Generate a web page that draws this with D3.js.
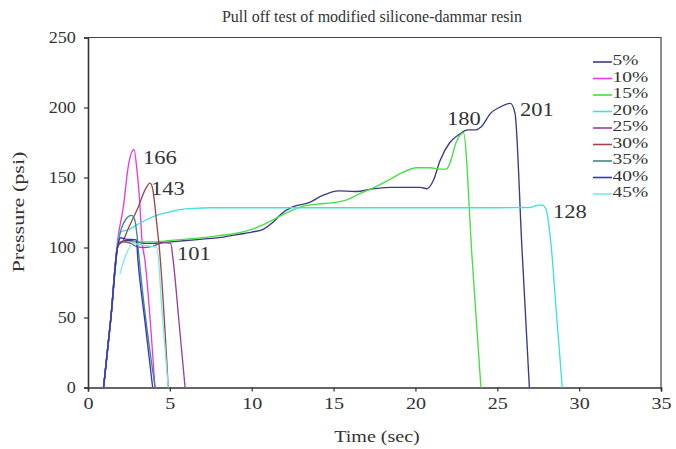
<!DOCTYPE html>
<html>
<head>
<meta charset="utf-8">
<script src="https://cdn.jsdelivr.net/npm/d3@7"></script>
<style>
  html, body { margin: 0; padding: 0; background: #fff; }
  svg { display: block; }
  text { font-family: "Liberation Serif", "Times New Roman", serif; fill: #333; }
</style>
</head>
<body>
<div id="chart"></div>
<script>
// series names + colours (legend order)
const seriesNames = ["5%", "10%", "15%", "20%", "25%", "30%", "35%", "40%", "45%"];
const seriesColors = ["#3a3a88", "#e63ce6", "#44e044", "#40e0e0", "#9a409a", "#a04848", "#3f8a8a", "#3535c8", "#80e8e8"];

// [time (sec), pressure (psi)]
const s5 = [[0.95,0],[1.4,50],[1.8,100],[2.0,104],[2.5,105],[3.0,104],[3.5,103],[4.0,103],[5,104],[6,105],[7,106],[8,107],[9,109],[10,111],[10.7,113],[11.3,118],[11.8,124],[12.5,129],[13.5,132],[14.3,137],[15.3,140.5],[16.3,140],[17.5,142],[18.5,143],[19.5,143],[20.3,143],[20.7,142],[21.1,148],[21.5,162],[22.1,175],[22.7,181],[23.2,184],[23.7,184],[24.0,186],[24.6,196],[25.2,200.5],[25.8,203],[26.08,196],[26.5,101],[26.96,0]];
const s10 = [[0.95,0],[1.4,50],[1.81,105],[2.16,129],[2.46,158],[2.81,170],[2.97,157.6],[3.18,128.7],[3.28,107.3],[3.48,90.7],[4.09,0]];
const s15 = [[0.95,0],[1.4,50],[1.8,100],[2.1,104],[3,104],[4,104],[5,105],[6,106],[7,107],[8,108.5],[9,110],[10,113],[11,118],[12,124],[13,129],[14,131],[15,132],[15.8,134],[16.5,138],[17.5,143],[18.5,149],[19.1,153],[20.1,157],[20.9,157],[21.5,156],[21.9,156],[22.1,160],[22.5,175.5],[22.93,182],[23.47,91],[24.0,0]];
const s20 = [[0.95,0],[1.4,50],[1.75,95],[1.95,110.5],[2.5,113],[2.97,116],[3.6,120],[4.2,123],[5,125.5],[5.6,127],[6.5,128],[7.45,128.4],[10,128.4],[15,128.4],[20,128.4],[25,128.4],[27,128.6],[27.4,130],[27.7,130.5],[27.96,128],[28.3,100],[28.6,55],[28.97,0]];
const s25 = [[0.95,0],[1.4,50],[1.8,100],[2.1,104],[2.6,103],[3.0,100.5],[3.5,100],[4.0,101],[4.6,103.5],[5.05,103],[5.2,91],[5.55,48],[5.93,0]];
const s30 = [[0.95,0],[1.4,50],[1.85,102],[2.1,104],[2.46,113.6],[3.07,129],[3.48,141],[3.79,146],[3.93,143],[4.2,117],[4.37,98],[4.9,0]];
const s35 = [[0.95,0],[1.4,50],[1.8,100],[2.0,112],[2.3,120],[2.66,123],[2.85,120],[3.0,108],[3.1,95],[4.1,0]];
const s40 = [[0.95,0],[1.4,50],[1.8,100],[2.0,107],[2.3,106],[2.95,105.5],[3.05,91],[3.5,45],[3.95,0]];
const s45 = [[1.95,81],[2.35,95.6],[2.77,103],[3.2,102],[3.8,101],[4.2,100],[4.55,50],[4.9,0]];
const seriesData = [s5, s10, s15, s20, s25, s30, s35, s40, s45];

// value labels: [text, time, pressure] (left edge / vertical centre)
const valueLabels = [["166", 3.36, 162.7], ["143", 3.85, 140.7], ["101", 5.44, 94.3], ["180", 21.93, 190.6], ["201", 26.39, 197], ["128", 28.4, 124]];

const xTicks = [0, 5, 10, 15, 20, 25, 30, 35];
const yTicks = [0, 50, 100, 150, 200, 250];

const W = 676, H = 449;
const plotL = 88, plotR = 661, plotT = 37.5, plotB = 387.5;

const svg = d3.select("#chart").append("svg")
    .attr("width", W).attr("height", H);

const x = d3.scaleLinear().domain([0, 35]).range([plotL, plotR]);
const y = d3.scaleLinear().domain([0, 250]).range([plotB, plotT]);

// the text in the original is a little wide, stretch it sideways
function wideText(parent, px, py, sx, str) {
    return parent.append("text")
        .attr("transform", `translate(${px},${py}) scale(${sx},1)`)
        .text(str);
}

// frame (top and right)
svg.append("path")
    .attr("d", `M${plotL},${plotT}H${plotR}V${plotB}`)
    .attr("fill", "none").attr("stroke", "#444").attr("stroke-width", 1.2);

// axes
const xAxis = svg.append("g")
    .attr("transform", `translate(0,${plotB})`)
    .call(d3.axisBottom(x).tickValues(xTicks).tickSize(4).tickPadding(6));
const yAxis = svg.append("g")
    .attr("transform", `translate(${plotL},0)`)
    .call(d3.axisLeft(y).tickValues(yTicks).tickSize(4).tickPadding(7));

[xAxis, yAxis].forEach(g => {
    g.select(".domain").attr("stroke", "#333").attr("stroke-width", 1.6);
    g.selectAll(".tick line").attr("stroke", "#333").attr("stroke-width", 1.2);
    g.selectAll(".tick text")
        .attr("fill", "#333")
        .style("font-size", "16.5px")
        .style("font-family", '"Liberation Serif", serif');
});
xAxis.selectAll(".tick text").attr("transform", "scale(1.22,1)");
yAxis.selectAll(".tick text").attr("transform", "scale(1.1,1)");

// lines
const line = d3.line()
    .x(d => x(d[0]))
    .y(d => y(d[1]))
    .curve(d3.curveMonotoneX);

seriesData.forEach((data, i) => {
    svg.append("path")
        .datum(data)
        .attr("d", line)
        .attr("fill", "none")
        .attr("stroke", seriesColors[i])
        .attr("stroke-width", 1.35);
});

// value labels
valueLabels.forEach(d => {
    wideText(svg, x(d[1]), y(d[2]), 1.25, d[0])
        .attr("dominant-baseline", "middle")
        .style("font-size", "18px");
});

// legend
const legend = svg.append("g").attr("transform", "translate(593,62)");
seriesNames.forEach((name, i) => {
    const g = legend.append("g").attr("transform", `translate(0,${i * 16.5})`);
    g.append("line")
        .attr("x1", 0).attr("x2", 19)
        .attr("stroke", seriesColors[i]).attr("stroke-width", 1.6);
    wideText(g, 19.5, 0, 1.3, name)
        .attr("dominant-baseline", "middle")
        .style("font-size", "15px");
});

// titles
svg.append("text")
    .attr("x", 372).attr("y", 22)
    .attr("text-anchor", "middle")
    .style("font-size", "16px")
    .text("Pull off test of modified silicone-dammar resin");

wideText(svg, 377, 442, 1.18, "Time (sec)")
    .attr("text-anchor", "middle")
    .style("font-size", "17px");

svg.append("text")
    .attr("transform", "translate(24,212) rotate(-90) scale(1.3,1)")
    .attr("text-anchor", "middle")
    .style("font-size", "17px")
    .text("Pressure (psi)");
</script>
</body>
</html>
